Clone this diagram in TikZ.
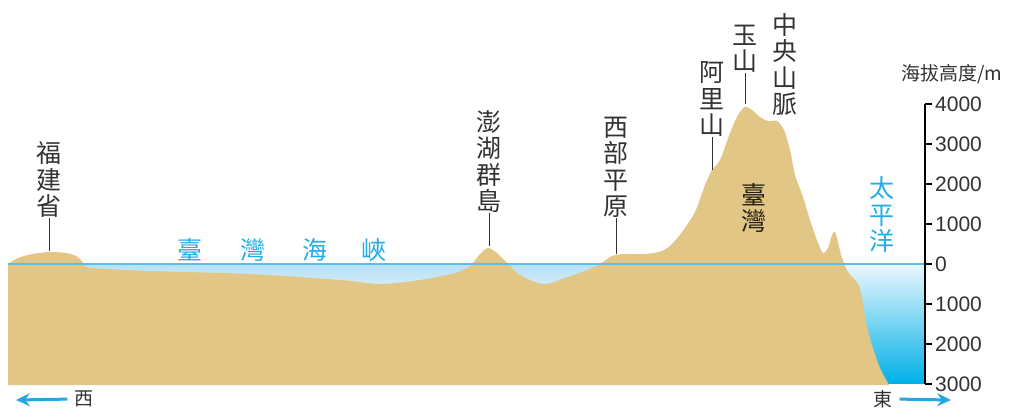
\documentclass[tikz,border=0pt]{standalone}
\usepackage{fontspec}
\setmainfont{Liberation Sans}
\newfontfamily\cjk{Noto Sans CJK TC}
\usetikzlibrary{arrows.meta}

\definecolor{landtan}{RGB}{226,198,134}
\definecolor{labelgray}{RGB}{50,50,50}
\definecolor{seacyan}{RGB}{35,172,230}
\definecolor{arrowblue}{RGB}{40,165,225}
\definecolor{sealine}{RGB}{90,190,232}
\definecolor{straittop}{RGB}{182,225,246}
\definecolor{straitbot}{RGB}{222,241,251}
\definecolor{oceantop}{RGB}{236,248,253}
\definecolor{oceanbot}{RGB}{0,176,232}

\tikzset{
  placename/.style={font=\cjk\fontsize{25}{26.5}\selectfont, text=labelgray, align=center, inner sep=0pt},
  seaname/.style={placename, text=seacyan},
  leader/.style={draw=labelgray, line width=0.8pt},
  tickmark/.style={line width=1.6pt},
  depthnum/.style={font=\fontsize{21}{21}\selectfont, text=labelgray, anchor=west, inner sep=0pt},
  dirarrow/.style={draw=arrowblue, line width=3pt, -{Stealth[length=14pt,width=13pt,inset=5pt]}},
}

\begin{document}
\begin{tikzpicture}[x=1pt, y=-1pt]
		%%%%% START %%%%%
		\useasboundingbox (0,0) rectangle (1010,412);
		
		% water first, land goes over it
		\shade[top color=straittop, bottom color=straitbot] (82,264) rectangle (606,296);
		\shade[top color=oceantop, bottom color=oceanbot] (846,264) rectangle (925,383);
		
		\fill[landtan] (8,383) -- plot[smooth, tension=0.5] coordinates {
			(8,264) (18,258) (32,254) (50,252) (66,253) (76,256) (81,260) (85,265) (92,268)
			(150,271) (250,274) (340,280) (380,284) (420,280) (455,273) (470,266)
			(480,254) (488,248) (497,253) (508,264) (520,275) (535,282) (547,284)
			(565,278) (585,271) (600,264) (612,256) (625,254) (645,254) (662,251)
			(672,244) (682,232) (695,212) (705,185) (712,170) (720,160) (730,133)
			(738,115) (745,107) (752,110) (760,117) (768,121) (777,121) (784,130)
			(790,150) (795,175) (803,197) (810,220) (818,243) (823,253) (828,248)
			(832,235) (835,232) (838,242) (842,258) (848,272) (858,284) (862,298)
			(866,322) (872,345) (880,368) (888,383) (889,385)} -- (8,385) -- cycle;
		
		\draw[sealine, line width=1.8pt] (8,264) -- (925,264);
		
		% height scale
		\draw[line width=2.6pt] (925,104) -- (925,384);
		\foreach \h/\txt [count=\i] in {4000/4000,3000/3000,2000/2000,1000/1000,0/0,-1000/1000,-2000/2000,-3000/3000}
			{\draw[tickmark] (925,{264-\h/25}) -- (932,{264-\h/25});
			 \node[depthnum] (num\i) at (935,{264-\h/25}) {\txt};}
		\node[font=\cjk\fontsize{19}{19}\selectfont, text=labelgray, inner sep=0pt] (unit) at (952,74) {海拔高度/m};
		
		% places
		\node[placename, anchor=south] (fujian) at (49,218) {福\\建\\省};
		\coordinate (fujianTop) at (49,251);
		\draw[leader] (fujian.south) -- (fujianTop);
		
		\node[placename, anchor=south] (penghu) at (489,213) {澎\\湖\\群\\島};
		\coordinate (penghuTop) at (489,246);
		\draw[leader] (penghu.south) -- (penghuTop);
		
		\node[placename, anchor=south] (plain) at (616,218) {西\\部\\平\\原};
		\coordinate (plainTop) at (616,254);
		\draw[leader] (plain.south) -- (plainTop);
		
		\node[placename, anchor=south] (alishan) at (712,137) {阿\\里\\山};
		\coordinate (alishanTop) at (712,170);
		\draw[leader] (alishan.south) -- (alishanTop);
		
		\node[placename, anchor=south] (yushan) at (745,73) {玉\\山};
		\coordinate (yushanTop) at (745,104);
		\draw[leader] (yushan.south) -- (yushanTop);
		
		\node[placename, anchor=south] (central) at (785,116) {中\\央\\山\\脈};
		
		\node[placename, text=black!85!landtan] (taiwan) at (754,208) {臺\\灣};
		
		% seas
		\node[seaname] (pacific) at (882,215) {太\\平\\洋};
		\node[seaname] (strait1) at (190,250) {臺};
		\node[seaname] (strait2) at (253,250) {灣};
		\node[seaname] (strait3) at (315,250) {海};
		\node[seaname] (strait4) at (374,250) {峽};
		
		% directions
		\node[font=\cjk\fontsize{19}{19}\selectfont, text=labelgray, inner sep=0pt] (west) at (84,399) {西};
		\coordinate (westEnd) at (16,400);
		\draw[dirarrow, shorten <=7pt] (west.west) -- (westEnd);
		
		\node[font=\cjk\fontsize{19}{19}\selectfont, text=labelgray, inner sep=0pt] (east) at (883,399) {東};
		\coordinate (eastEnd) at (951,400);
		\draw[dirarrow, shorten <=7pt] (east.east) -- (eastEnd);
		%%%%% END %%%%%
\end{tikzpicture}
\end{document}
